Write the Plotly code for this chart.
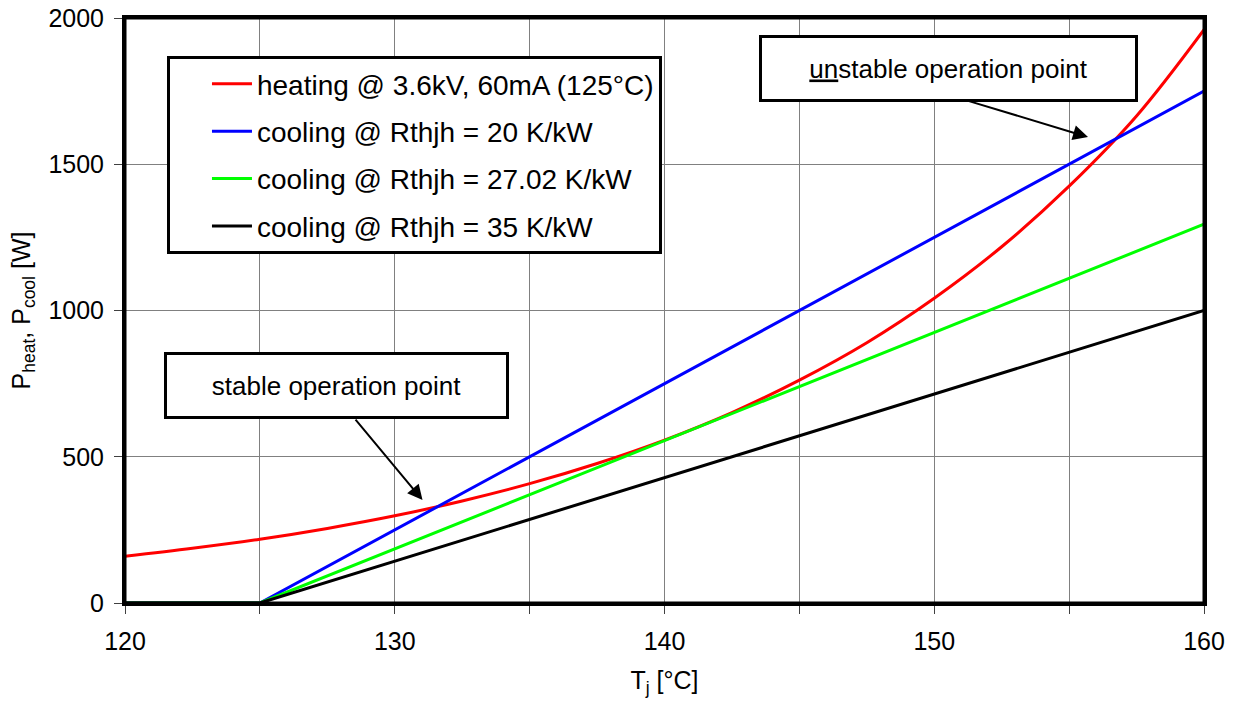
import plotly.graph_objects as go

# ---- data ----
t_heat = [120, 122.5, 125, 127.5, 130, 132.5, 135, 137.5, 140, 142.5, 145,
          147.5, 150, 152.5, 155, 157.5, 160]
p_heat = [160, 187, 218, 255, 298, 349, 408, 477, 557, 651, 762,
          890, 1042, 1218, 1425, 1665, 1960]

t_cool = [120, 125, 160]
p_cool_20 = [0, 0, 1750]
p_cool_27 = [0, 0, 1295]
p_cool_35 = [0, 0, 1000]

names = ["heating @ 3.6kV, 60mA (125°C)",
         "cooling @ Rthjh = 20 K/kW",
         "cooling @ Rthjh = 27.02 K/kW",
         "cooling @ Rthjh = 35 K/kW"]
colors = ["#FF0000", "#0000FF", "#00FF00", "#000000"]

x_ticks = [120, 125, 130, 135, 140, 145, 150, 155, 160]
x_ticktext = ["120", "", "130", "", "140", "", "150", "", "160"]
y_ticks = [0, 500, 1000, 1500, 2000]

# annotation positions (data coords)
stable_box = (127.83, 745)
unstable_box = (150.53, 1826)
stable_arrow_tail = (128.5, 632)
stable_arrow_head = (131.03, 352)
unstable_arrow_tail = (151.14, 1720)
unstable_arrow_head = (155.7, 1593)

FONT = "Liberation Sans, Arial, sans-serif"

fig = go.Figure()
series = [(t_heat, p_heat), (t_cool, p_cool_20), (t_cool, p_cool_27), (t_cool, p_cool_35)]
for i, ((xs, ys), nm, c) in enumerate(zip(series, names, colors)):
    fig.add_trace(go.Scatter(
        x=xs, y=ys, mode="lines", name=nm, legendgroup=f"g{i}",
        line=dict(color=c, width=3, shape="spline" if i == 0 else "linear"),
    ))

ann = []
for (cx, cy), txt, w in [(stable_box, "stable operation point", 339),
                         (unstable_box, "<u>un</u>stable operation point", 373)]:
    ann.append(dict(x=cx, y=cy, xref="x", yref="y", text=txt, showarrow=False,
                    width=w, height=61, align="center", valign="middle",
                    bgcolor="white", bordercolor="black", borderwidth=3, borderpad=0,
                    font=dict(family=FONT, size=26, color="black")))
for (tx, ty), (hx, hy) in [(stable_arrow_tail, stable_arrow_head),
                           (unstable_arrow_tail, unstable_arrow_head)]:
    ann.append(dict(x=hx, y=hy, ax=tx, ay=ty, xref="x", yref="y", axref="x", ayref="y",
                    text="", showarrow=True, arrowhead=2, arrowsize=1.5, arrowwidth=2,
                    arrowcolor="black", standoff=0))

fig.update_layout(
    width=1238, height=701,
    margin=dict(l=125, r=34, t=18, b=98, autoexpand=False),
    paper_bgcolor="white", plot_bgcolor="white",
    font=dict(family=FONT, size=25, color="black"),
    showlegend=True,
    legend=dict(x=0.0389, y=0.935, xanchor="left", yanchor="top",
                bgcolor="white", bordercolor="black", borderwidth=3,
                font=dict(family=FONT, size=28, color="black"),
                tracegroupgap=8, indentation=37, itemwidth=40,
                traceorder="grouped"),
    annotations=ann,
    shapes=[dict(type="rect", xref="paper", yref="paper", x0=0, x1=1, y0=0, y1=1,
                 line=dict(color="black", width=3), layer="above")],
    xaxis=dict(range=[120, 160], tickmode="array", tickvals=x_ticks, ticktext=x_ticktext,
               showgrid=True, gridcolor="#808080", gridwidth=1,
               showline=True, linecolor="black", linewidth=3, mirror=True,
               ticks="outside", ticklen=8, tickcolor="#404040", tickwidth=1,
               ticklabelstandoff=6, ticklabeloverflow="allow",
               zeroline=False, tickfont=dict(size=25), automargin=False,
               title=dict(text="T<sub>j</sub> [°C]", font=dict(size=25), standoff=18)),
    yaxis=dict(range=[0, 2000], tickmode="array", tickvals=y_ticks,
               showgrid=True, gridcolor="#808080", gridwidth=1,
               showline=True, linecolor="black", linewidth=3, mirror=True,
               ticks="outside", ticklen=8, tickcolor="#404040", tickwidth=1,
               ticklabelstandoff=5, ticklabeloverflow="allow",
               zeroline=False, tickfont=dict(size=25), automargin=False,
               title=dict(text="P<sub>heat</sub>, P<sub>cool</sub> [W]",
                          font=dict(size=25), standoff=11)),
)

fig.write_html("out.html", config={"displayModeBar": False},
               post_script="document.body.style.margin='0';")
